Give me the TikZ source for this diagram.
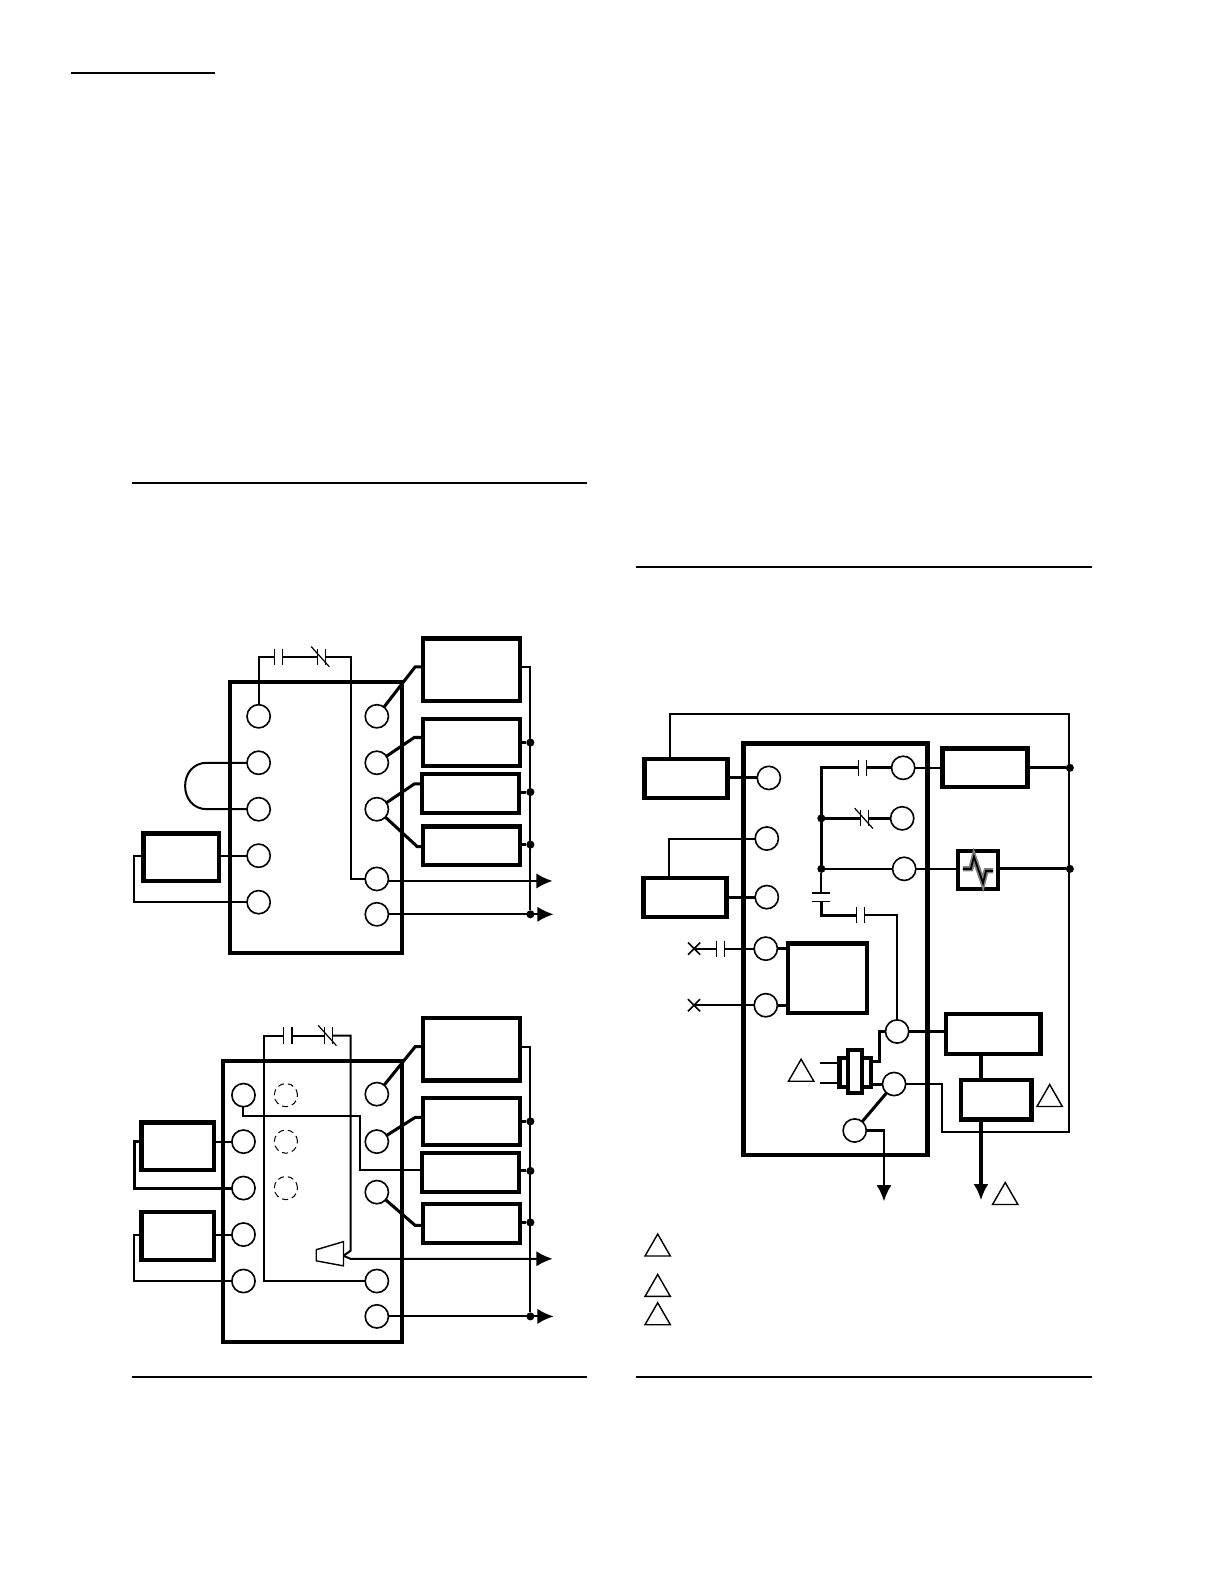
\documentclass[tikz,border=0pt]{standalone}
\usepackage{tikz}
\usetikzlibrary{arrows.meta,shapes.geometric,shapes.misc}
\tikzset{
  unit/.style={rectangle,draw=black,line width=2.1pt,inner sep=0pt,outer sep=0pt},
  term/.style={circle,draw=black,line width=0.8pt,fill=white,minimum size=11.5pt,inner sep=0pt,outer sep=0pt},
  ghost/.style={term,densely dashed,line width=0.5pt,fill=none},
  dot/.style={circle,fill=black,minimum size=4pt,inner sep=0pt,outer sep=0pt},
  wire/.style={draw=black,line width=1pt},
  heavy/.style={draw=black,line width=1.5pt},
  rule/.style={draw=black,line width=0.8pt},
  feed/.style={wire,-{Latex[length=8pt,width=7.5pt]}},
  plate/.style={draw=black,line width=0.6pt},
  contact/.style={rectangle,inner sep=0pt,outer sep=0pt,minimum width=4pt,minimum height=8pt,
    append after command={(\tikzlastnode.north west) edge[plate] (\tikzlastnode.south west)
      (\tikzlastnode.north east) edge[plate] (\tikzlastnode.south east)}},
  breaker/.style={contact,
    append after command={([xshift=-3pt,yshift=1pt]\tikzlastnode.north west) edge[plate] ([xshift=2pt,yshift=-1pt]\tikzlastnode.south east)}},
  upright/.style={rectangle,inner sep=0pt,outer sep=0pt,minimum width=9pt,minimum height=4pt,
    append after command={(\tikzlastnode.north west) edge[plate] (\tikzlastnode.north east)
      (\tikzlastnode.south west) edge[plate] (\tikzlastnode.south east)}},
  open/.style={cross out,draw=black,line width=0.8pt,minimum size=6pt,inner sep=0pt,outer sep=0pt},
  warn/.style={regular polygon,regular polygon sides=3,draw=black,line width=0.7pt,minimum size=14.5pt,inner sep=0pt,outer sep=0pt},
}
\begin{document}
\begin{tikzpicture}[x=0.5pt,y=-0.5pt]
\useasboundingbox (0,0) rectangle (1211.5,1567.9);
% page rules
\coordinate (r1a) at (70,72);     \coordinate (r1b) at (213,72);
\coordinate (r2a) at (131,478);   \coordinate (r2b) at (581,478);
\coordinate (r3a) at (630,561);   \coordinate (r3b) at (1081,561);
\coordinate (r4a) at (131,1363);  \coordinate (r4b) at (581,1363);
\coordinate (r5a) at (630,1363);  \coordinate (r5b) at (1081,1363);
\path[rule] (r1a) -- (r1b);
\path[rule] (r2a) -- (r2b);
\path[rule] (r3a) -- (r3b);
\path[rule] (r4a) -- (r4b);
\path[rule] (r5a) -- (r5b);
%
% upper left panel
\node (am) [unit,minimum width=85pt,minimum height=134pt] at (313,809) {};
\node (al1) [term] at (256,709) {};
\node (al2) [term] at (256,755) {};
\node (al3) [term] at (256,801) {};
\node (al4) [term] at (256,847) {};
\node (al5) [term] at (256,893) {};
\node (ar1) [term] at (373,709) {};
\node (ar2) [term] at (373,755) {};
\node (ar3) [term] at (373,801) {};
\node (ar4) [term] at (373,870) {};
\node (ar5) [term] at (373,905) {};
\node (ab1) [unit,minimum width=48pt,minimum height=31pt] at (467,663) {};
\node (ab2) [unit,minimum width=48pt,minimum height=23pt] at (467,735) {};
\node (ab3) [unit,minimum width=48pt,minimum height=19.5pt] at (466,785.5) {};
\node (ab4) [unit,minimum width=48pt,minimum height=19pt] at (467,837) {};
\node (as) [unit,minimum width=37.5pt,minimum height=23.5pt] at (179.5,848.5) {};
\node (ak1) [contact] at (276,650) {};
\node (ak2) [breaker] at (318,650) {};
\node (ad1) [dot] at (525,735) {};
\node (ad2) [dot] at (525,784) {};
\node (ad3) [dot] at (525,836) {};
\node (ad4) [dot] at (525,905) {};
\coordinate (aa1) at (547,872);
\coordinate (aa2) at (548,905);
%
\path[wire] (al1) -- (al1 |- ak1) -- (ak1.west);
\path[wire] (ak1.east) -- (ak2.west);
\path[wire] (ak2.east) -- (347,650) -- (347,870) -- (ar4);
\path[wire] (al2) -- (205,755) .. controls (176,755) and (176,801) .. (205,801) -- (al3);
\path[wire] (as.east |- al4) -- (al4);
\path[wire] (as.west |- al4) -- (133,847) -- (133,893) -- (al5);
\path[heavy] (ar1) -- (411,660) -- (ab1.west |- 411,660);
\path[heavy] (ar2) -- (410,730) -- (ab2.west |- 410,730);
\path[heavy] (ar3) -- (410,776) -- (ab3.west |- 410,776);
\path[heavy] (ar3) -- (413,838) -- (ab4.west |- 413,838);
\path[wire] (ab1.east |- 525,660) -- (525,660) -- (ad4);
\path[heavy] (ab2.east |- ad1) -- (ad1);
\path[heavy] (ab3.east |- ad2) -- (ad2);
\path[heavy] (ab4.east |- ad3) -- (ad3);
\path[feed] (ar4.east |- aa1) -- (aa1);
\path[feed] (ar5) -- (aa2);
%
% lower left panel
\node (bm) [unit,minimum width=88.5pt,minimum height=139pt] at (309.5,1189) {};
\node (bl1) [term] at (241,1084) {};
\node (bl2) [term] at (241,1130) {};
\node (bl3) [term] at (241,1176) {};
\node (bl4) [term] at (241,1222) {};
\node (bl5) [term] at (241,1268) {};
\node (bg1) [ghost] at (283,1084) {};
\node (bg2) [ghost] at (283,1130) {};
\node (bg3) [ghost] at (283,1176) {};
\node (br1) [term] at (373,1083) {};
\node (br2) [term] at (373,1130) {};
\node (br3) [term] at (373,1180) {};
\node (br4) [term] at (373,1268) {};
\node (br5) [term] at (373,1303) {};
\node (bb1) [unit,minimum width=48pt,minimum height=31pt] at (467,1038.5) {};
\node (bb2) [unit,minimum width=48pt,minimum height=23pt] at (467,1110) {};
\node (bb3) [unit,minimum width=48pt,minimum height=19.5pt] at (466,1160.5) {};
\node (bb4) [unit,minimum width=48pt,minimum height=19pt] at (467,1211) {};
\node (bs1) [unit,minimum width=36pt,minimum height=23.5pt] at (176,1134.5) {};
\node (bs2) [unit,minimum width=36pt,minimum height=23.5pt] at (176,1223.5) {};
\node (bk1) [contact] at (285,1025) {};
\node (bk2) [breaker] at (325,1025) {};
\node (bd1) [dot] at (525,1110) {};
\node (bd2) [dot] at (525,1159) {};
\node (bd3) [dot] at (525,1210) {};
\node (bd4) [dot] at (525,1303) {};
\coordinate (ba1) at (547,1246);
\coordinate (ba2) at (548,1303);
\coordinate (bv) at (340,1243);
%
\path[wire] (br4) -- (261,1268) -- (261,1025) -- (bk1.west);
\path[wire] (bk1.east) -- (bk2.west);
\path[wire] (bk2.east) -- (347,1025) -- (347,1238) -- (bv);
\path[wire,fill=white,line width=0.7pt] (313,1237) -- (340,1229) -- (340,1253) -- (313,1248) -- cycle;
\path[feed] (bv) -- (347,1246) -- (ba1);
\path[wire] (bl1) -- (241,1105) -- (356,1105) -- (356,1158) -- (bb3.west |- 356,1158);
\path[wire] (bs1.east |- bl2) -- (bl2);
\path[heavy] (bs1.west |- bl2) -- (133,1130) -- (133,1176) -- (bl3);
\path[wire] (bs2.east |- bl4) -- (bl4);
\path[wire] (bs2.west |- bl4) -- (133,1222) -- (133,1268) -- (bl5);
\path[heavy] (br1) -- (411,1036) -- (bb1.west |- 411,1036);
\path[heavy] (br2) -- (411,1106) -- (bb2.west |- 411,1106);
\path[heavy] (br3) -- (411,1213) -- (bb4.west |- 411,1213);
\path[wire] (bb1.east |- 525,1036) -- (525,1036) -- (bd4);
\path[heavy] (bb2.east |- bd1) -- (bd1);
\path[heavy] (bb3.east |- bd2) -- (bd2);
\path[heavy] (bb4.east |- bd3) -- (bd3);
\path[feed] (br5) -- (ba2);
%
% right panel
\node (cm) [unit,minimum width=91pt,minimum height=203.5pt] at (827,939.5) {};
\node (cl1) [term] at (761,770) {};
\node (cl2) [term] at (759,830) {};
\node (cl3) [term] at (759,888) {};
\node (cl4) [term] at (758,939) {};
\node (cl5) [term] at (758,995) {};
\node (cr1) [term] at (894,760) {};
\node (cr2) [term] at (893,810) {};
\node (cr3) [term] at (895,860) {};
\node (cr4) [term] at (888,1021) {};
\node (cr5) [term] at (885,1073) {};
\node (cr6) [term] at (846,1119) {};
\node (cs1) [unit,minimum width=41pt,minimum height=19.5pt] at (679,770.5) {};
\node (cs2) [unit,minimum width=41pt,minimum height=19.5pt] at (678,888.5) {};
\node (cin) [unit,minimum width=39pt,minimum height=34.5pt] at (819,968.5) {};
\node (cb1) [unit,minimum width=42pt,minimum height=19pt] at (975,760) {};
\node (cheat) [unit,minimum width=20pt,minimum height=19pt] at (968,861) {};
\node (cb2) [unit,minimum width=47pt,minimum height=19.5pt] at (983,1023.5) {};
\node (cb3) [unit,minimum width=35pt,minimum height=19.5pt] at (986,1088.5) {};
\node (crel1) [unit,minimum width=15.5pt,minimum height=14.5pt] at (846.5,1061.5) {};
\node (crel2) [unit,fill=white,minimum width=7pt,minimum height=21.5pt] at (846,1060.5) {};
\node (ck1) [contact] at (854,760) {};
\node (ck2) [breaker] at (856,810) {};
\node (ck3) [upright] at (813,888) {};
\node (ck4) [contact] at (852,906) {};
\node (ck5) [contact] at (713,939) {};
\node (cx1) [open] at (687,939) {};
\node (cx2) [open] at (687,995) {};
\node (cd1) [dot] at (813,810) {};
\node (cd2) [dot] at (813,860) {};
\node (cd3) [dot] at (1059,760) {};
\node (cd4) [dot] at (1059,860) {};
\coordinate (ca1) at (875,1189);
\coordinate (ca2) at (971,1188);
%
\path[wire] (cs1.north -| 663,751) -- (663,707) -- (1058,707) -- (1058,1120) -- (932,1120) -- (932,1073) -- (cr5);
\path[heavy] (cs1.east |- cl1) -- (cl1);
\path[wire] (cs2.north -| 662,869) -- (662,830) -- (cl2);
\path[heavy] (cs2.east |- cl3) -- (cl3);
\path[wire] (cx1.center) -- (ck5.west);
\path[wire] (ck5.east) -- (cl4);
\path[wire] (cx2.center) -- (cl5);
\path[heavy] (cl4) -- (cin.west |- cl4);
\path[heavy] (cl5) -- (cin.west |- cl5);
\path[heavy] (ck1.west) -- (813,760) -- (cd2);
\path[heavy] (ck1.east) -- (cr1);
\path[heavy] (cd1) -- (ck2.west);
\path[heavy] (ck2.east) -- (cr2);
\path[wire] (cd2) -- (cr3);
\path[wire] (cd2) -- (ck3.north);
\path[heavy] (ck3.south) -- (813,906) -- (ck4.west);
\path[wire] (ck4.east) -- (888,906) -- (cr4);
\path[wire] (cr1) -- (cb1.west |- cr1);
\path[heavy] (cb1.east |- cd3) -- (cd3);
\path[wire] (cr3) -- (cheat.west |- cr3);
\path[heavy] (cheat.east |- cd4) -- (cd4);
\path[heavy] (cr4) -- (cb2.west |- cr4);
\path[heavy] (cb2.south -| 971,1043) -- (cb3.north -| 971,1069);
\path[feed,line width=1.5pt] (cb3.south -| ca2) -- (ca2);
\path[heavy] (crel1.east |- 863,1051) -- (871,1051) -- (871,1021) -- (cr4);
\path[heavy] (crel1.east |- cr5) -- (cr5);
\coordinate (cl6) at (812,1052);
\coordinate (cl7) at (812,1072);
\path[wire,line width=0.7pt] (cl6) -- (crel1.west |- cl6);
\path[wire,line width=0.7pt] (cl7) -- (crel1.west |- cl7);
\path[heavy] (cr5) -- (cr6);
\path[feed] (cr6) -- (875,1119) -- (ca1);
% flame in the heater
\draw[shift={(cheat)},gray,line width=2.6pt] (-15,-1) -- (-7,-1) -- (-4,-13) -- (5,13) -- (8,1) -- (15,1);
\draw[shift={(cheat)},black,line width=0.9pt] (-15,-1) -- (-7,-1) -- (-4,-13) -- (5,13) -- (8,1) -- (15,1);
% note marks
\node (cw1) [warn] at (793,1063) {};
\node (cw2) [warn] at (1039,1088) {};
\node (cw3) [warn] at (995,1185) {};
\node (cw4) [warn] at (651,1236) {};
\node (cw5) [warn] at (651,1276) {};
\node (cw6) [warn] at (651,1304) {};
\end{tikzpicture}
\end{document}
